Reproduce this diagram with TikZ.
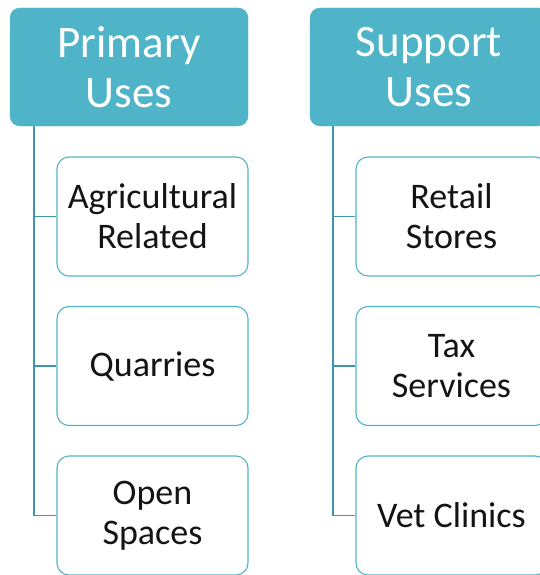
\documentclass[tikz,border=0pt]{standalone}
\usepackage{fontspec}
\setmainfont{Carlito}
\definecolor{headfill}{RGB}{80,180,200}
\definecolor{boxline}{RGB}{80,180,200}
\definecolor{connline}{RGB}{62,150,170}
\definecolor{childtext}{RGB}{20,20,20}
\tikzset{
  headbox/.style={draw=headfill, fill=headfill, rounded corners=10pt, minimum width=238pt, minimum height=118pt, inner sep=0pt, align=center, text=white, font=\fontsize{45}{50}\selectfont},
  childbox/.style={draw=boxline, line width=1.1pt, fill=white, rounded corners=12pt, minimum width=191pt, minimum height=119pt, inner sep=0pt, align=center, text=childtext, font=\fontsize{36}{40}\selectfont},
  conn/.style={draw=connline, line width=1.3pt}
}
\begin{document}
\begin{tikzpicture}[x=1pt,y=-1pt]
\useasboundingbox (0,0) rectangle (540,575);
\clip (0,0) rectangle (540,575);
% headers
\node[headbox] (h1) at (129,67) {Primary\\Uses};
\node[headbox] (h2) at (429,67) {Support\\Uses};
% left column children
\node[childbox] (c11) at (152.5,216.5) {Agricultural\\Related};
\node[childbox] (c12) at (152.5,366) {Quarries};
\node[childbox] (c13) at (152.5,515.5) {Open\\Spaces};
% right column children
\node[childbox] (c21) at (451.5,216.5) {Retail\\Stores};
\node[childbox] (c22) at (451.5,366) {Tax\\Services};
\node[childbox] (c23) at (451.5,515.5) {Vet Clinics};
% connectors
\coordinate (t1) at (34,126);
\coordinate (t2) at (333,126);
\draw[conn] (t1) |- (c13.west);
\draw[conn] (t1 |- c11.west) -- (c11.west);
\draw[conn] (t1 |- c12.west) -- (c12.west);
\draw[conn] (t2) |- (c23.west);
\draw[conn] (t2 |- c21.west) -- (c21.west);
\draw[conn] (t2 |- c22.west) -- (c22.west);
\end{tikzpicture}
\end{document}
